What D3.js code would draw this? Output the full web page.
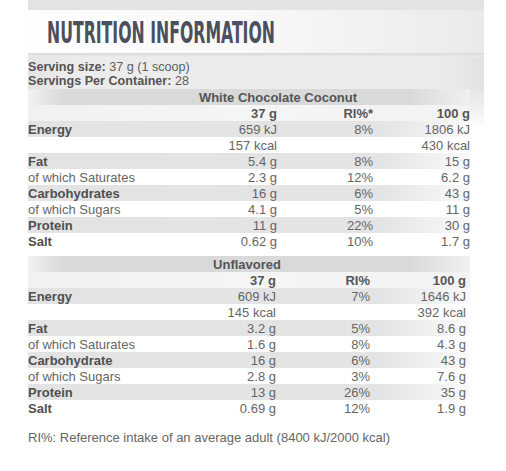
<!DOCTYPE html>
<html><head><meta charset="utf-8">
<script src="https://cdn.jsdelivr.net/npm/d3@7"></script>
<style>
html,body{margin:0;padding:0;background:#fff;}
svg{display:block;font-family:"Liberation Sans",Arial,sans-serif;}
</style></head>
<body><svg id="c" width="506" height="471"></svg>
<script>
// ---- data ----
const titleText = "NUTRITION INFORMATION";
const servingSize = ["Serving size:", " 37 g (1 scoop)"];
const servingsPer = ["Servings Per Container:", " 28"];
const flavours = ["White Chocolate Coconut", "Unflavored"];
const headers1 = ["37 g", "RI%*", "100 g"];
const headers2 = ["37 g", "RI%", "100 g"];
const labels1 = ["Energy", "", "Fat", "of which Saturates", "Carbohydrates", "of which Sugars", "Protein", "Salt"];
const labels2 = ["Energy", "", "Fat", "of which Saturates", "Carbohydrate", "of which Sugars", "Protein", "Salt"];
const boldRows = [true, false, true, false, true, false, true, true];
const wcc37 = ["659 kJ", "157 kcal", "5.4 g", "2.3 g", "16 g", "4.1 g", "11 g", "0.62 g"];
const wccRI = ["8%", "", "8%", "12%", "6%", "5%", "22%", "10%"];
const wcc100 = ["1806 kJ", "430 kcal", "15 g", "6.2 g", "43 g", "11 g", "30 g", "1.7 g"];
const unf37 = ["609 kJ", "145 kcal", "3.2 g", "1.6 g", "16 g", "2.8 g", "13 g", "0.69 g"];
const unfRI = ["7%", "", "5%", "8%", "6%", "3%", "26%", "12%"];
const unf100 = ["1646 kJ", "392 kcal", "8.6 g", "4.3 g", "43 g", "7.6 g", "35 g", "1.9 g"];
const footnote = "RI%: Reference intake of an average adult (8400 kJ/2000 kcal)";

const svg = d3.select("#c");
const defs = svg.append("defs");
function lin(id, stops, vertical) {
  const g = defs.append("linearGradient").attr("id", id)
    .attr("x1", 0).attr("y1", 0).attr("x2", vertical ? 0 : 1).attr("y2", vertical ? 1 : 0);
  stops.forEach(s => g.append("stop").attr("offset", s[0]).attr("stop-color", s[1]));
}
lin("band", [[0, "#fefefe"], [0.5, "#f8f8f8"], [1, "#eaeaea"]]);
lin("cont", [[0, "#e6e6e6"], [0.45, "#efefef"], [1, "#ffffff"]], true);
lin("contH", [[0, "#e4e4e4"], [0.1, "#ececec"], [0.9, "#ececec"], [1, "#e2e2e2"]]);
lin("trow", [[0, "#f2f2f2"], [0.08, "#d9d9d9"], [0.86, "#d9d9d9"], [1, "#f0f0f0"]]);
lin("hrow", [[0, "#f1f1f1"], [0.5, "#f5f5f5"], [1, "#f3f3f3"]]);
lin("stripe", [[0, "#e3e3e3"], [0.8, "#e4e4e4"], [1, "#fafafa"]]);
lin("shadow", [[0, "#d8d8d8"], [1, "#ececec"]], true);

const X0 = 28, X1 = 484;
svg.append("rect").attr("x", X0).attr("y", 0).attr("width", X1 - X0).attr("height", 10).attr("fill", "#e3e3e3");
svg.append("rect").attr("x", X0).attr("y", 53).attr("width", X1 - X0).attr("height", 36).attr("fill", "url(#contH)");
svg.append("rect").attr("x", X0).attr("y", 89).attr("width", X1 - X0).attr("height", 40).attr("fill", "url(#cont)");
svg.append("rect").attr("x", X0).attr("y", 53).attr("width", X1 - X0).attr("height", 4).attr("fill", "url(#shadow)");
svg.append("rect").attr("x", X0).attr("y", 10).attr("width", X1 - X0).attr("height", 43).attr("fill", "url(#band)");
svg.append("text").attr("x", 47).attr("y", 42.7)
  .attr("font-family", "'DejaVu Sans Condensed','DejaVu Sans',sans-serif")
  .attr("font-size", 31).attr("font-weight", "bold").attr("fill", "#4b505c")
  .attr("textLength", 228).attr("lengthAdjust", "spacingAndGlyphs")
  .text(titleText);

[[servingSize, 70.5], [servingsPer, 84.5]].forEach(([parts, y]) => {
  const t = svg.append("text").attr("x", X0).attr("y", y).attr("font-size", 12.6).attr("fill", "#555");
  t.append("tspan").attr("font-weight", "bold").text(parts[0]);
  t.append("tspan").attr("fill", "#5e5e5e").text(parts[1]);
});

function drawTable(top, right, title, titleX, headers, labels, c1, c2, c3) {
  const rows = d3.range(10);
  const y = d3.scaleBand().domain(rows).range([top, top + 160]);
  const cols = d3.scaleOrdinal().domain([0, 1, 2]).range(right);
  const g = svg.append("g");
  g.selectAll("rect.bg").data(rows).join("rect")
    .attr("x", X0).attr("y", d => y(d)).attr("width", 442).attr("height", y.bandwidth())
    .attr("fill", d => d === 0 ? "url(#trow)" : d === 1 ? "url(#hrow)" : (d % 2 === 0 ? "url(#stripe)" : "#ffffff"));
  const base = d => y(d) + 12.5;
  g.append("text").attr("x", titleX).attr("y", base(0)).attr("text-anchor", "middle")
    .attr("font-size", 13).attr("font-weight", "bold").attr("fill", "#555").text(title);
  g.selectAll("text.h").data(headers).join("text").attr("class", "h")
    .attr("x", (d, i) => cols(i)).attr("y", base(1)).attr("text-anchor", "end")
    .attr("font-size", 13).attr("font-weight", "bold").attr("fill", "#555").text(d => d);
  g.selectAll("text.l").data(labels).join("text").attr("class", "l")
    .attr("x", X0).attr("y", (d, i) => base(i + 2))
    .attr("font-size", 13).attr("font-weight", (d, i) => boldRows[i] ? "bold" : "normal")
    .attr("fill", (d, i) => boldRows[i] ? "#505050" : "#666").text(d => d);
  [c1, c2, c3].forEach((arr, ci) => {
    g.selectAll("text.v" + ci).data(arr).join("text").attr("class", "v" + ci)
      .attr("x", cols(ci)).attr("y", (d, i) => base(i + 2)).attr("text-anchor", "end")
      .attr("font-size", 13).attr("fill", "#666").text(d => d);
  });
}
drawTable(89, [277, 373, 470], flavours[0], 278, headers1, labels1, wcc37, wccRI, wcc100);
drawTable(256, [276, 370, 466], flavours[1], 247, headers2, labels2, unf37, unfRI, unf100);

svg.append("text").attr("x", X0).attr("y", 442.3).attr("font-size", 13).attr("fill", "#666").text(footnote);
</script></body></html>
